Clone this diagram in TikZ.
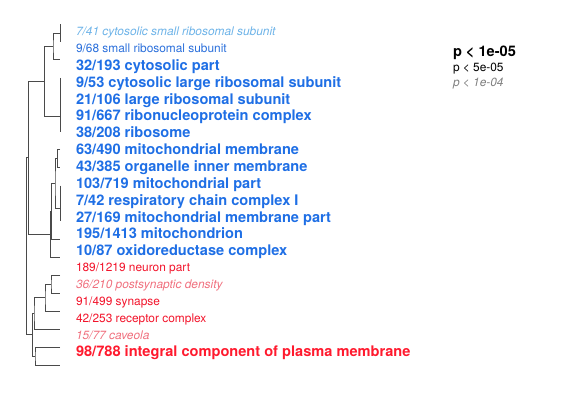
\documentclass[tikz,border=0pt]{standalone}
\usepackage{fontspec}
\setmainfont{TeX Gyre Heros}
\definecolor{bluebold}{HTML}{1F6FE5}
\definecolor{bluenorm}{HTML}{2A6FDB}
\definecolor{bluelite}{HTML}{6DB3E8}
\definecolor{redbold}{HTML}{FF1A2E}
\definecolor{rednorm}{HTML}{F2142B}
\definecolor{redlite}{HTML}{F0707E}
\definecolor{tree}{HTML}{4A4A4A}
\tikzset{
  lbl/.style={anchor=base west, inner sep=0pt, outer sep=0pt},
  big/.style={lbl, font=\fontsize{14.6}{17}\selectfont\bfseries},
  small/.style={lbl, font=\fontsize{11.9}{14}\selectfont},
  smallit/.style={lbl, font=\fontsize{11.9}{14}\selectfont\itshape},
  branch/.style={draw=tree, line width=0.85pt},
}
\begin{document}
\begin{tikzpicture}[x=1pt,y=-1pt]
\useasboundingbox (0,0) rectangle (562,405);
% leaves
\coordinate (L1) at (60,24.0);
\coordinate (L2) at (60,41.95);
\coordinate (L3) at (60,59.9);
\coordinate (L4) at (60,77.85);
\coordinate (L5) at (60,95.8);
\coordinate (L6) at (60,113.75);
\coordinate (L7) at (60,131.7);
\coordinate (L8) at (60,149.65);
\coordinate (L9) at (60,167.6);
\coordinate (L10) at (60,185.55);
\coordinate (L11) at (60,203.5);
\coordinate (L12) at (60,221.45);
\coordinate (L13) at (60,239.4);
\coordinate (L14) at (60,257.35);
\coordinate (L15) at (60,275.3);
\coordinate (L16) at (60,293.25);
\coordinate (L17) at (60,311.2);
\coordinate (L18) at (60,329.15);
\coordinate (L19) at (60,347.1);
\coordinate (L20) at (60,365.05);
% internal nodes
\coordinate (n12) at (60,32.975);
\coordinate (n123) at (53,46.44);
\coordinate (n47) at (60,115.99);
\coordinate (nTop) at (44.7,81.2);
\coordinate (n89) at (57.3,158.6);
\coordinate (n1012) at (60,208.0);
\coordinate (nC) at (55,183.3);
\coordinate (nC13) at (51.7,211.35);
\coordinate (nMid) at (50.7,234.35);
\coordinate (nUp) at (28.3,157.8);
\coordinate (n1516) at (51,284.3);
\coordinate (n17) at (45,297.75);
\coordinate (n18) at (34,313.45);
\coordinate (n1920) at (35,356.1);
\coordinate (nLow) at (32.7,334.8);
\coordinate (root) at (26.7,246.3);
% tree
\draw[branch] (L1) -- (L2);
\draw[branch] (L4) -- (L7);
\draw[branch] (L10) -- (L12);
\draw[branch] (n12) -| (n123) |- (L3);
\draw[branch] (n123) -| (nTop) |- (n47);
\draw[branch] (L8) -| (n89) |- (L9);
\draw[branch] (n89) -| (nC) |- (n1012);
\draw[branch] (nC) -| (nC13) |- (L13);
\draw[branch] (nC13) -| (nMid) |- (L14);
\draw[branch] (nTop) -| (nUp) |- (nMid);
\draw[branch] (L15) -| (n1516) |- (L16);
\draw[branch] (n1516) -| (n17) |- (L17);
\draw[branch] (n17) -| (n18) |- (L18);
\draw[branch] (L19) -| (n1920) |- (L20);
\draw[branch] (n18) -| (nLow) |- (n1920);
\draw[branch] (nUp) -| (root) |- (nLow);
% labels
\node[smallit, text=bluelite] (t1) at (76,35.8) {7/41 cytosolic small ribosomal subunit};
\node[small, text=bluenorm] (t2) at (76,52.6) {9/68 small ribosomal subunit};
\node[big, text=bluebold] (t3) at (76,70.4) {32/193 cytosolic part};
\node[big, text=bluebold] (t4) at (76,87.25) {9/53 cytosolic large ribosomal subunit};
\node[big, text=bluebold] (t5) at (76,104.1) {21/106 large ribosomal subunit};
\node[big, text=bluebold] (t6) at (76,120.95) {91/667 ribonucleoprotein complex};
\node[big, text=bluebold] (t7) at (76,137.8) {38/208 ribosome};
\node[big, text=bluebold] (t8) at (76,154.65) {63/490 mitochondrial membrane};
\node[big, text=bluebold] (t9) at (76,171.5) {43/385 organelle inner membrane};
\node[big, text=bluebold] (t10) at (76,188.35) {103/719 mitochondrial part};
\node[big, text=bluebold] (t11) at (76,205.2) {7/42 respiratory chain complex I};
\node[big, text=bluebold] (t12) at (76,222.05) {27/169 mitochondrial membrane part};
\node[big, text=bluebold] (t13) at (76,238.9) {195/1413 mitochondrion};
\node[big, text=bluebold] (t14) at (76,255.75) {10/87 oxidoreductase complex};
\node[small, text=rednorm] (t15) at (76,271.7) {189/1219 neuron part};
\node[smallit, text=redlite] (t16) at (76,288.55) {36/210 postsynaptic density};
\node[small, text=rednorm] (t17) at (76,305.4) {91/499 synapse};
\node[small, text=rednorm] (t18) at (76,322.25) {42/253 receptor complex};
\node[smallit, text=redlite] (t19) at (76,339.1) {15/77 caveola};
\node[big, text=redbold] (t20) at (76,356.85) {98/788 integral component of plasma membrane};
% legend
\node[big, text=black] (p1) at (453,56.8) {p < 1e-05};
\node[small, text=black] (p2) at (453,71.5) {p < 5e-05};
\node[smallit, text=gray] (p3) at (453,86.5) {p < 1e-04};
\end{tikzpicture}
\end{document}
